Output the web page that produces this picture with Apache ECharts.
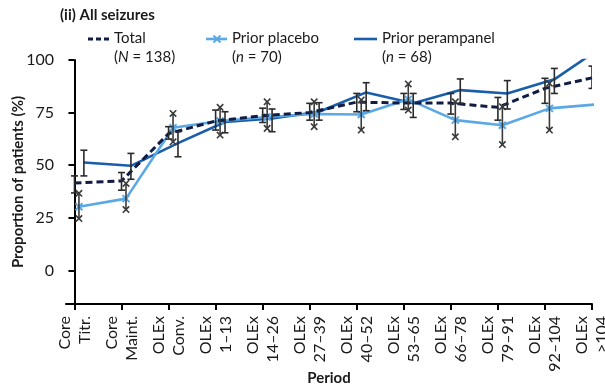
<!DOCTYPE html>
<html>
<head>
<meta charset="utf-8">
<script src="https://cdn.jsdelivr.net/npm/echarts@6/dist/echarts.min.js"></script>
<style>html,body{margin:0;padding:0;background:#fff;}#chart{width:605px;height:387px;}</style>
</head>
<body>
<div id="chart"></div>
<script>
const categories = ['Core\nTitr.', 'Core\nMaint.', 'OLEx\nConv.', 'OLEx\n1–13', 'OLEx\n14–26', 'OLEx\n27–39',
  'OLEx\n40–52', 'OLEx\n53–65', 'OLEx\n66–78', 'OLEx\n79–91', 'OLEx\n92–104', 'OLEx\n>104'];
const yTicks = [0, 25, 50, 75, 100];

const total      = [41.5, 42.5, 65.0, 71.0, 73.5, 75.0, 80.0, 79.5, 79.5, 77.5, 86.5, 91.5];
const totalLow   = [36.8, 38.1, 62.4, 66.7, 70.3, 71.4, 75.4, 76.5, 74.3, 71.4, 79.4, 86.5];
const totalHigh  = [44.9, 46.5, 68.3, 76.2, 77.1, 79.4, 84.1, 84.1, 84.1, 82.2, 91.3, 97.1];

const placebo     = [30.2, 34.1, 67.8, 71.0, 72.9, 74.3, 74.1, 81.3, 71.4, 69.0, 77.0, 78.9];
const placeboLow  = [24.6, 28.9, 61.1, 64.3, 67.5, 68.3, 66.7, 76.2, 63.5, 59.8, 66.7, 66.7];
const placeboHigh = [36.6, 41.3, 74.6, 77.5, 80.1, 80.1, 81.0, 88.6, 80.1, 77.8, 88.9, 92.4];

const perampanel     = [51.3, 49.7, 60.5, 70.5, 72.2, 75.4, 84.6, 79.4, 85.7, 84.1, 90.8, 106.0];
const perampanelLow  = [44.9, 43.3, 54.0, 65.4, 65.9, 71.4, 75.9, 72.7, 79.4, 76.7, 84.1, 99.0];
const perampanelHigh = [57.1, 55.6, 65.9, 75.4, 76.7, 79.7, 89.2, 84.1, 91.0, 90.2, 96.0, 112.0];

const FONT = 'Lato';
const C_TOTAL = '#101c44';
const C_PLACEBO = '#5aa8e6';
const C_PERAMP = '#1a5daa';
const C_ERR = '#2a2a2a';
const xIdx = categories.map((c, i) => i);

function errSeries(lows, highs, offset, capType, color) {
  return {
    type: 'custom',
    clip: true,
    z: 5,
    silent: true,
    data: lows.map((l, i) => [i + offset, l, highs[i]]),
    renderItem: function (params, api) {
      const x = api.value(0);
      const lo = api.coord([x, api.value(1)]);
      const hi = api.coord([x, api.value(2)]);
      const st = { stroke: color, lineWidth: 1.6, fill: null };
      const ch = [{ type: 'line', shape: { x1: lo[0], y1: lo[1], x2: hi[0], y2: hi[1] }, style: st }];
      [lo, hi].forEach(p => {
        if (capType === 'I') {
          ch.push({ type: 'line', shape: { x1: p[0] - 3.5, y1: p[1], x2: p[0] + 3.5, y2: p[1] }, style: st });
        } else {
          ch.push({ type: 'line', shape: { x1: p[0] - 3.2, y1: p[1] - 3.2, x2: p[0] + 3.2, y2: p[1] + 3.2 }, style: st });
          ch.push({ type: 'line', shape: { x1: p[0] - 3.2, y1: p[1] + 3.2, x2: p[0] + 3.2, y2: p[1] - 3.2 }, style: st });
        }
      });
      return { type: 'group', children: ch };
    }
  };
}

const chart = echarts.init(document.getElementById('chart'), null, { renderer: 'canvas' });
const txt = { fontFamily: FONT, fontSize: 15, fill: '#1a1a1a' };
const italicRich = { i: { fontStyle: 'italic', fontFamily: FONT, fontSize: 15, fill: '#1a1a1a' } };
chart.setOption({
  animation: false,
  backgroundColor: '#fff',
  grid: { left: 66, right: 13, top: 60, bottom: 83, containLabel: false, outerBoundsMode: 'none' },
  xAxis: {
    type: 'value', min: -0.18, max: 11,
    axisLine: { onZero: false, lineStyle: { color: '#000', width: 2 } },
    axisTick: { customValues: xIdx, length: 6, lineStyle: { color: '#000', width: 2 } },
    axisLabel: {
      customValues: xIdx, formatter: v => categories[Math.round(v)],
      rotate: 90, margin: 12, fontSize: 16, lineHeight: 20, color: '#1a1a1a', fontFamily: FONT
    },
    splitLine: { show: false },
    name: 'Period', nameLocation: 'middle', nameGap: 67, nameMoveOverlap: false,
    nameTextStyle: { fontFamily: FONT, fontSize: 15, fontWeight: 'bold', color: '#1a1a1a', verticalAlign: 'top' }
  },
  yAxis: {
    type: 'value', min: -16, max: 100,
    axisLine: { show: true, lineStyle: { color: '#000', width: 2 } },
    axisTick: { show: true, customValues: yTicks, length: 6, lineStyle: { color: '#000', width: 2 } },
    axisLabel: { customValues: yTicks, margin: 12, fontSize: 16, color: '#1a1a1a', fontFamily: FONT },
    splitLine: { show: false },
    name: 'Proportion of patients (%)', nameLocation: 'middle', nameGap: 40, nameMoveOverlap: false,
    nameTextStyle: { fontFamily: FONT, fontSize: 15, fontWeight: 'bold', color: '#1a1a1a' }
  },
  series: [
    {
      name: 'Prior perampanel', type: 'line', z: 2, symbol: 'none',
      data: perampanel.map((v, i) => [i + 0.2, v]),
      lineStyle: { color: C_PERAMP, width: 2.6 }
    },
    {
      name: 'Prior placebo', type: 'line', z: 3,
      symbol: 'path://M0,0L10,10M10,0L0,10', symbolSize: 7, showAllSymbol: true,
      itemStyle: { color: 'none', borderColor: C_PLACEBO, borderWidth: 2 },
      data: placebo.map((v, i) => [i + 0.095, v]),
      lineStyle: { color: C_PLACEBO, width: 2.6 }
    },
    {
      name: 'Total', type: 'line', z: 4, symbol: 'none',
      data: total.map((v, i) => [i, v]),
      lineStyle: { color: C_TOTAL, width: 3, type: [7, 4] }
    },
    errSeries(totalLow, totalHigh, 0, 'I', C_ERR),
    errSeries(placeboLow, placeboHigh, 0.095, 'X', '#3a3a3a'),
    errSeries(perampanelLow, perampanelHigh, 0.2, 'I', C_ERR)
  ],
  graphic: [
    { type: 'text', x: 60, y: 8, style: { text: '(ii) All seizures', fontFamily: FONT, fontSize: 15, fontWeight: 'bold', fill: '#1a1a1a' } },
    { type: 'line', shape: { x1: 88, y1: 39, x2: 109, y2: 39 }, style: { stroke: C_TOTAL, lineWidth: 3, lineDash: [5, 3] } },
    { type: 'text', x: 114, y: 29, style: Object.assign({}, txt, { text: 'Total\n({i|N} = 138)', lineHeight: 19, rich: italicRich }) },
    { type: 'line', shape: { x1: 206, y1: 39, x2: 227, y2: 39 }, style: { stroke: C_PLACEBO, lineWidth: 2.6 } },
    { type: 'line', shape: { x1: 213.5, y1: 35.5, x2: 220.5, y2: 42.5 }, style: { stroke: C_PLACEBO, lineWidth: 2 } },
    { type: 'line', shape: { x1: 213.5, y1: 42.5, x2: 220.5, y2: 35.5 }, style: { stroke: C_PLACEBO, lineWidth: 2 } },
    { type: 'text', x: 232, y: 29, style: Object.assign({}, txt, { text: 'Prior placebo\n({i|n} = 70)', lineHeight: 19, rich: italicRich }) },
    { type: 'line', shape: { x1: 354, y1: 39, x2: 377, y2: 39 }, style: { stroke: C_PERAMP, lineWidth: 2.6 } },
    { type: 'text', x: 382, y: 29, style: Object.assign({}, txt, { text: 'Prior perampanel\n({i|n} = 68)', lineHeight: 19, rich: italicRich }) }
  ]
});
</script>
</body>
</html>
